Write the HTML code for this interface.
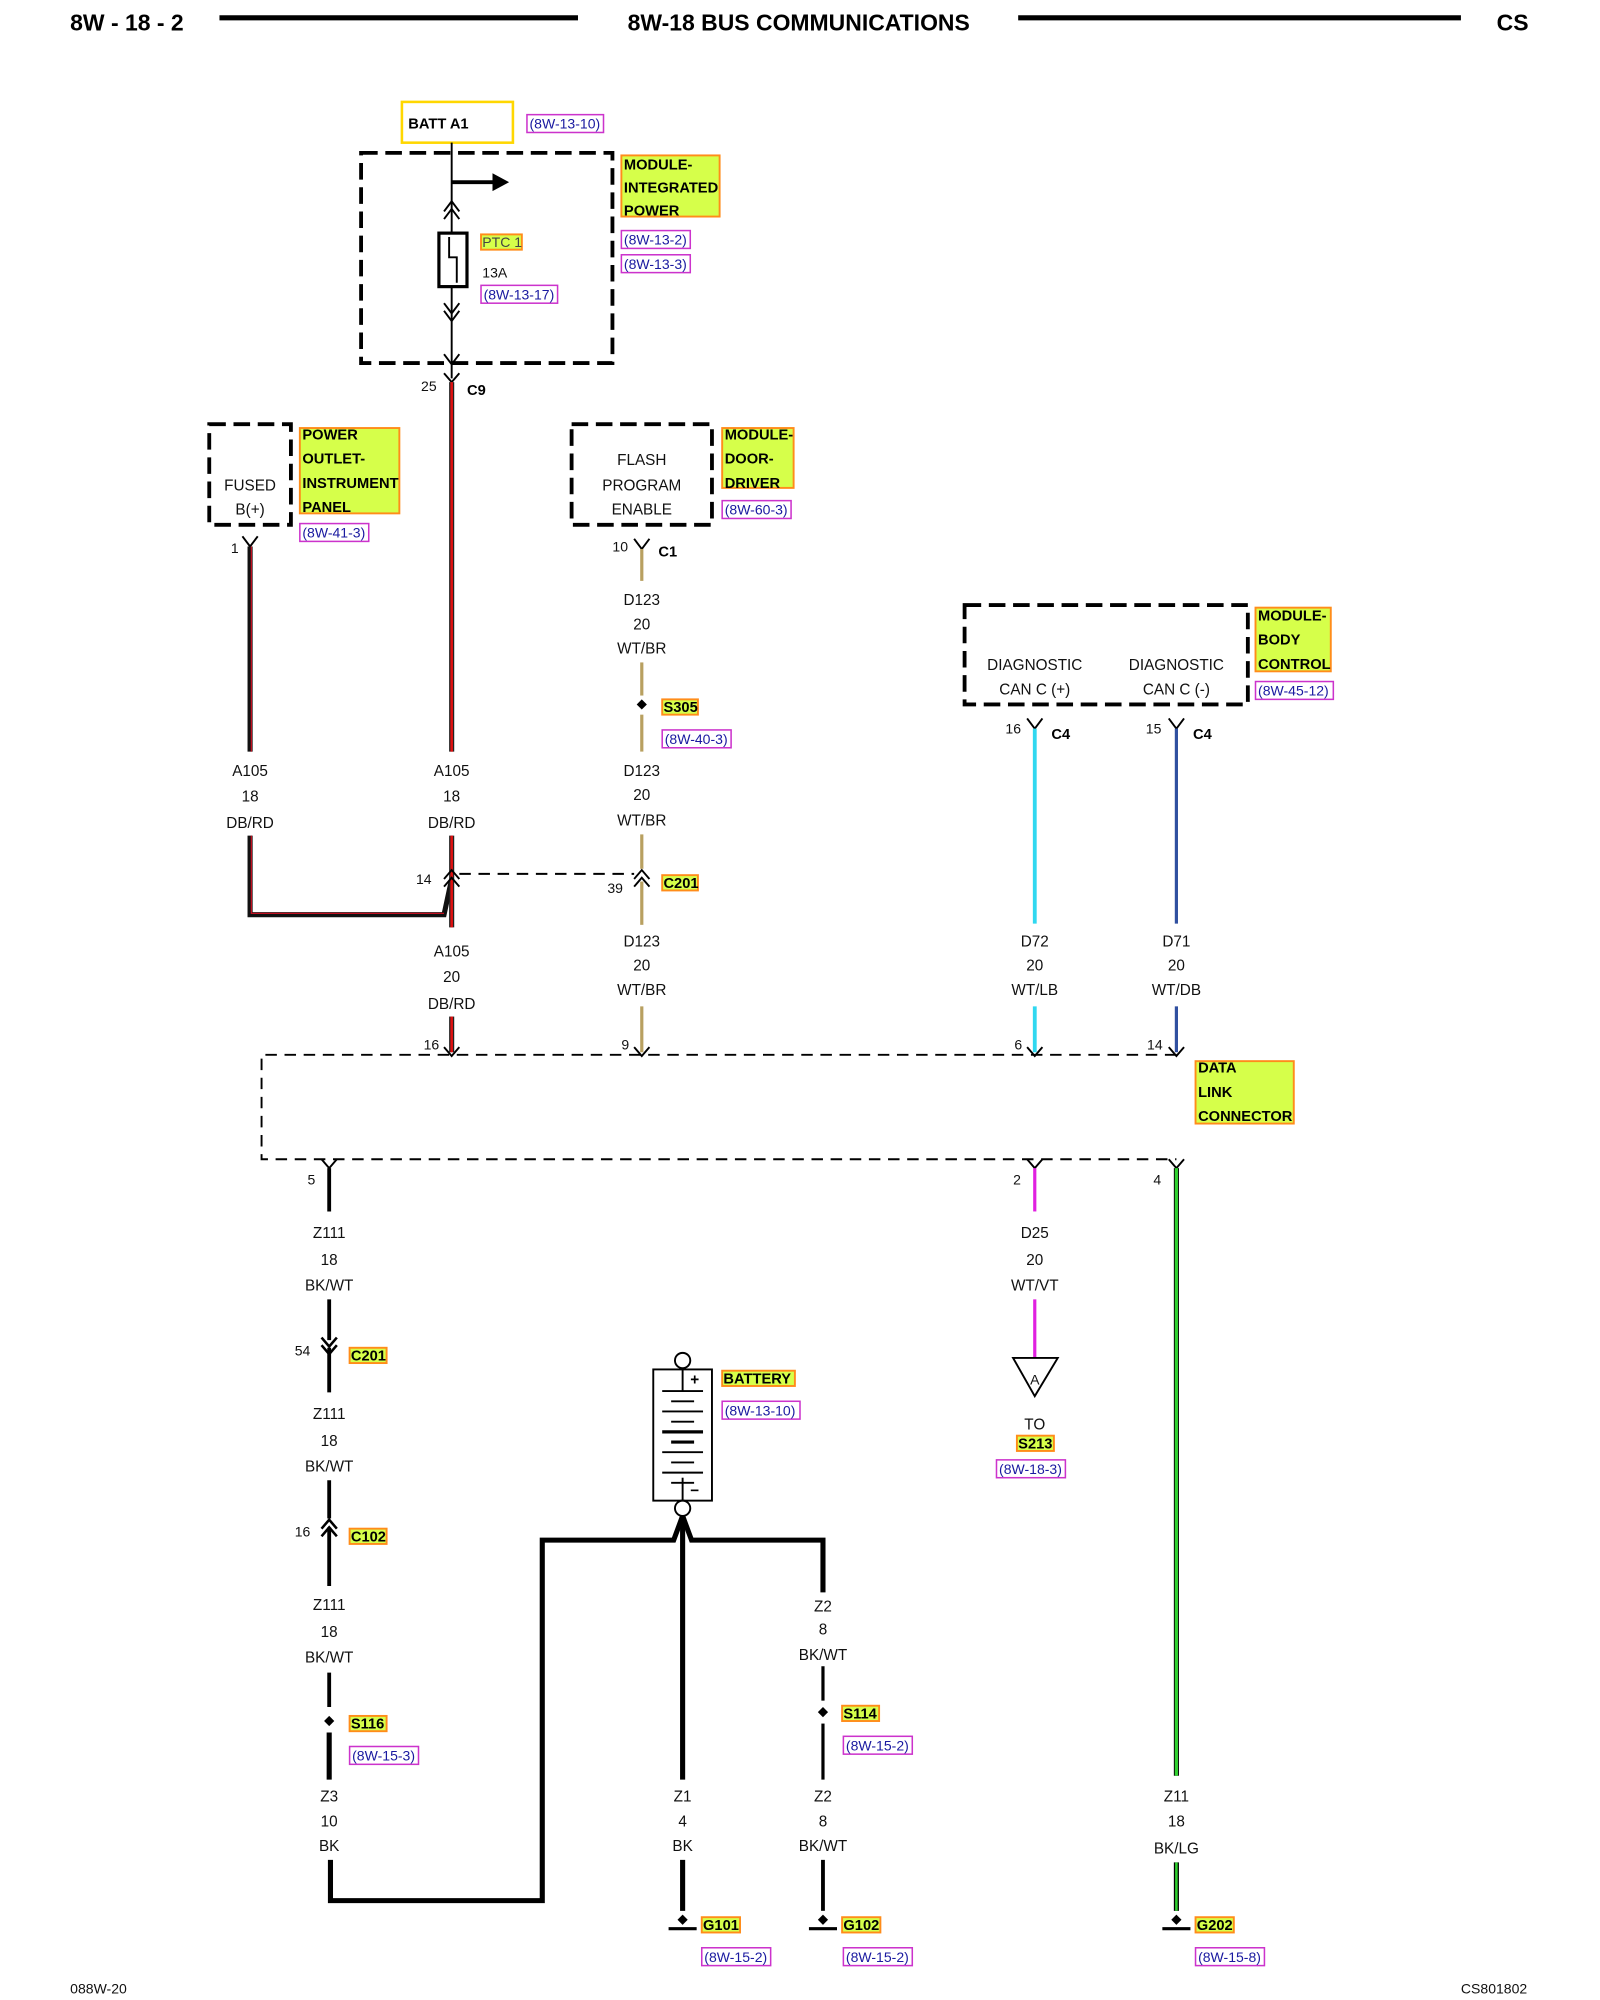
<!DOCTYPE html>
<html><head><meta charset="utf-8"><style>
html,body{margin:0;padding:0;background:#fff;}
svg{display:block;}
text{font-family:"Liberation Sans",sans-serif;}
.t{font-size:12px;fill:#111;text-anchor:middle;}
.tl{font-size:12px;fill:#111;}
.b{font-size:11.5px;font-weight:bold;fill:#000;}
.r{font-size:11px;fill:#1a1aa0;}
.hl{fill:#d6ff4a;stroke:#ff8c1a;stroke-width:1.5;}
.rb{fill:none;stroke:#cc33cc;stroke-width:1.2;}
.dash{fill:none;stroke:#000;stroke-width:3;stroke-dasharray:13,6;}
.dl{fill:none;stroke:#000;stroke-width:1.5;stroke-dasharray:9,6;}
.w{fill:none;stroke:#000;stroke-width:3;}
.thin{fill:none;stroke:#000;stroke-width:1.5;}
</style></head><body>
<svg width="1600" height="2000" viewBox="0 0 1254 1570" preserveAspectRatio="none" xmlns="http://www.w3.org/2000/svg">
<!-- header -->
<text x="55" y="24" style="font-size:18px;font-weight:bold">8W - 18 - 2</text>
<line x1="172" y1="14" x2="453" y2="14" stroke="#000" stroke-width="4"/>
<text x="626" y="24" style="font-size:18px;font-weight:bold;text-anchor:middle">8W-18 BUS COMMUNICATIONS</text>
<line x1="798" y1="14" x2="1145" y2="14" stroke="#000" stroke-width="4"/>
<text x="1173" y="24" style="font-size:18px;font-weight:bold">CS</text>

<!-- BATT A1 -->
<rect x="315" y="80" width="87" height="32" fill="none" stroke="#ffd700" stroke-width="2"/>
<text x="320" y="101" class="b">BATT A1</text>
<rect x="413" y="90" width="60" height="14" class="rb"/><text x="415" y="101" class="r">(8W-13-10)</text>

<!-- IPM -->
<rect x="283" y="120" width="197" height="165" class="dash"/>
<line x1="354" y1="112" x2="354" y2="297" class="thin"/>
<line x1="354" y1="143" x2="388" y2="143" stroke="#000" stroke-width="3"/>
<polygon points="386,136 399,143 386,150" fill="#000"/>
<path d="M348,166 L354,158 L360,166 M348,172 L354,164 L360,172" class="thin"/>
<rect x="344" y="183" width="22" height="42" fill="#fff" stroke="#000" stroke-width="2.5"/>
<path d="M352,186 V202 H358 V222" class="thin"/>
<path d="M348,238 L354,246 L360,238 M348,244 L354,252 L360,244" class="thin"/>
<path d="M348,278 L354,286 L360,278" class="thin"/>
<rect x="377" y="184" width="32" height="12" class="hl"/><text x="378" y="194" style="font-size:11px;fill:#444">PTC 1</text>
<text x="378" y="218" class="tl" style="font-size:11px">13A</text>
<rect x="377" y="224" width="60" height="14" class="rb"/><text x="379" y="235" class="r">(8W-13-17)</text>
<rect x="487" y="122" width="77" height="48" class="hl"/>
<text x="489" y="133" class="b">MODULE-</text><text x="489" y="151" class="b">INTEGRATED</text><text x="489" y="169" class="b">POWER</text>
<rect x="487" y="181" width="54" height="14" class="rb"/><text x="489" y="192" class="r">(8W-13-2)</text>
<rect x="487" y="200" width="54" height="14" class="rb"/><text x="489" y="211" class="r">(8W-13-3)</text>
<path d="M348,293 L354,300 L360,293" class="thin"/>
<text x="330" y="307" class="tl" style="font-size:11px">25</text>
<text x="366" y="310" class="b">C9</text>
<line x1="354" y1="300" x2="354" y2="590" stroke="#222" stroke-width="4"/>
<line x1="354" y1="300" x2="354" y2="590" stroke="#e01010" stroke-width="2"/>

<!-- Power outlet -->
<rect x="164" y="333" width="64" height="79" class="dash"/>
<text x="196" y="385" class="t">FUSED</text><text x="196" y="404" class="t">B(+)</text>
<rect x="235" y="336" width="78" height="67" class="hl"/>
<text x="237" y="345" class="b">POWER</text><text x="237" y="364" class="b">OUTLET-</text><text x="237" y="383" class="b">INSTRUMENT</text><text x="237" y="402" class="b">PANEL</text>
<rect x="235" y="411" width="54" height="14" class="rb"/><text x="237" y="422" class="r">(8W-41-3)</text>
<path d="M190,421 L196,429 L202,421" class="thin"/>
<text x="181" y="434" class="tl" style="font-size:11px">1</text>
<line x1="196" y1="429" x2="196" y2="590" stroke="#111" stroke-width="4"/>
<line x1="197" y1="429" x2="197" y2="590" stroke="#c01020" stroke-width="1"/>

<!-- Flash / door -->
<rect x="448" y="333" width="110" height="79" class="dash"/>
<text x="503" y="365" class="t">FLASH</text><text x="503" y="385" class="t">PROGRAM</text><text x="503" y="404" class="t">ENABLE</text>
<rect x="566" y="336" width="56" height="47" class="hl"/>
<text x="568" y="345" class="b">MODULE-</text><text x="568" y="364" class="b">DOOR-</text><text x="568" y="383" class="b">DRIVER</text>
<rect x="566" y="393" width="54" height="14" class="rb"/><text x="568" y="404" class="r">(8W-60-3)</text>
<path d="M497,423 L503,431 L509,423" class="thin"/>
<text x="480" y="433" class="tl" style="font-size:11px">10</text>
<text x="516" y="437" class="b">C1</text>
<g stroke="#b8a060" stroke-width="2.5">
<line x1="503" y1="431" x2="503" y2="456"/><line x1="503" y1="520" x2="503" y2="546"/><line x1="503" y1="561" x2="503" y2="590"/>
<line x1="503" y1="655" x2="503" y2="682"/><line x1="503" y1="692" x2="503" y2="726"/><line x1="503" y1="790" x2="503" y2="826"/>
</g>
<text x="503" y="475" class="t">D123</text><text x="503" y="494" class="t">20</text><text x="503" y="513" class="t">WT/BR</text>
<polygon points="503,549 507,553 503,557 499,553" fill="#000"/>
<rect x="519" y="549" width="28" height="12" class="hl"/><text x="520" y="559" class="b">S305</text>
<rect x="519" y="573" width="54" height="14" class="rb"/><text x="521" y="584" class="r">(8W-40-3)</text>

<text x="196" y="609" class="t">A105</text><text x="196" y="629" class="t">18</text><text x="196" y="650" class="t">DB/RD</text>
<text x="354" y="609" class="t">A105</text><text x="354" y="629" class="t">18</text><text x="354" y="650" class="t">DB/RD</text>
<text x="503" y="609" class="t">D123</text><text x="503" y="628" class="t">20</text><text x="503" y="648" class="t">WT/BR</text>

<!-- splice A105 -->
<path d="M196,656 V718 H348 L354,690" fill="none" stroke="#111" stroke-width="4"/>
<path d="M197,656 V717 H348" fill="none" stroke="#c01020" stroke-width="1"/>
<line x1="354" y1="656" x2="354" y2="728" stroke="#222" stroke-width="4"/>
<line x1="354" y1="656" x2="354" y2="728" stroke="#e01010" stroke-width="2"/>
<path d="M348,690 L354,683 L360,690 M348,696 L354,689 L360,696" class="thin"/>
<text x="326" y="694" class="tl" style="font-size:11px">14</text>
<line x1="360" y1="686" x2="497" y2="686" class="dl"/>
<path d="M497,690 L503,683 L509,690 M497,696 L503,689 L509,696" class="thin"/>
<text x="476" y="701" class="tl" style="font-size:11px">39</text>
<rect x="519" y="687" width="28" height="12" class="hl"/><text x="520" y="697" class="b">C201</text>
<text x="354" y="751" class="t">A105</text><text x="354" y="771" class="t">20</text><text x="354" y="792" class="t">DB/RD</text>
<line x1="354" y1="798" x2="354" y2="826" stroke="#222" stroke-width="4"/>
<line x1="354" y1="798" x2="354" y2="826" stroke="#e01010" stroke-width="2"/>
<text x="503" y="743" class="t">D123</text><text x="503" y="762" class="t">20</text><text x="503" y="781" class="t">WT/BR</text>

<!-- BCM -->
<rect x="756" y="475" width="222" height="78" class="dash"/>
<text x="811" y="526" class="t">DIAGNOSTIC</text><text x="811" y="545" class="t">CAN C (+)</text>
<text x="922" y="526" class="t">DIAGNOSTIC</text><text x="922" y="545" class="t">CAN C (-)</text>
<rect x="984" y="477" width="59" height="50" class="hl"/>
<text x="986" y="487" class="b">MODULE-</text><text x="986" y="506" class="b">BODY</text><text x="986" y="525" class="b">CONTROL</text>
<rect x="984" y="535" width="61" height="14" class="rb"/><text x="986" y="546" class="r">(8W-45-12)</text>
<path d="M805,564 L811,572 L817,564 M916,564 L922,572 L928,564" class="thin"/>
<text x="788" y="576" class="tl" style="font-size:11px">16</text><text x="824" y="580" class="b">C4</text>
<text x="898" y="576" class="tl" style="font-size:11px">15</text><text x="935" y="580" class="b">C4</text>
<line x1="811" y1="572" x2="811" y2="725" stroke="#30d8f0" stroke-width="3"/>
<line x1="922" y1="572" x2="922" y2="725" stroke="#3050a0" stroke-width="2.5"/>
<text x="811" y="743" class="t">D72</text><text x="811" y="762" class="t">20</text><text x="811" y="781" class="t">WT/LB</text>
<text x="922" y="743" class="t">D71</text><text x="922" y="762" class="t">20</text><text x="922" y="781" class="t">WT/DB</text>
<line x1="811" y1="790" x2="811" y2="826" stroke="#30d8f0" stroke-width="3"/>
<line x1="922" y1="790" x2="922" y2="826" stroke="#3050a0" stroke-width="2.5"/>

<!-- DLC -->
<path d="M922,828 H205 V910 H922" class="dl"/>
<path d="M348,822 L354,829 L360,822 M497,822 L503,829 L509,822 M805,822 L811,829 L817,822 M916,822 L922,829 L928,822" class="thin"/>
<text x="332" y="824" class="tl" style="font-size:11px">16</text>
<text x="487" y="824" class="tl" style="font-size:11px">9</text>
<text x="795" y="824" class="tl" style="font-size:11px">6</text>
<text x="899" y="824" class="tl" style="font-size:11px">14</text>
<rect x="937" y="833" width="77" height="49" class="hl"/>
<text x="939" y="842" class="b">DATA</text><text x="939" y="861" class="b">LINK</text><text x="939" y="880" class="b">CONNECTOR</text>
<path d="M252,910 L258,917 L264,910 M805,910 L811,917 L817,910 M916,910 L922,917 L928,910" class="thin"/>
<text x="241" y="930" class="tl" style="font-size:11px">5</text>
<text x="794" y="930" class="tl" style="font-size:11px">2</text>
<text x="904" y="930" class="tl" style="font-size:11px">4</text>

<!-- Z111 chain -->
<g class="w" stroke="#000" stroke-width="3">
<line x1="258" y1="917" x2="258" y2="951"/>
<line x1="258" y1="1020" x2="258" y2="1052"/>
<line x1="258" y1="1058" x2="258" y2="1093"/>
<line x1="258" y1="1199" x2="258" y2="1245"/>
<line x1="258" y1="1313" x2="258" y2="1340"/>
<line x1="258" y1="1360" x2="258" y2="1397" stroke-width="4"/>
</g>
<text x="258" y="972" class="t">Z111</text><text x="258" y="993" class="t">18</text><text x="258" y="1013" class="t">BK/WT</text>
<path d="M252,1050 L258,1057 L264,1050 M252,1056 L258,1063 L264,1056" class="thin" style="stroke-width:2"/>
<text x="231" y="1064" class="tl" style="font-size:11px">54</text>
<rect x="274" y="1058" width="29" height="12" class="hl"/><text x="275" y="1068" class="b">C201</text>
<text x="258" y="1114" class="t">Z111</text><text x="258" y="1135" class="t">18</text><text x="258" y="1155" class="t">BK/WT</text>
<line x1="258" y1="1162" x2="258" y2="1192" stroke="#000" stroke-width="3"/>
<path d="M252,1200 L258,1193 L264,1200 M252,1206 L258,1199 L264,1206" class="thin" style="stroke-width:2"/>
<text x="231" y="1206" class="tl" style="font-size:11px">16</text>
<rect x="274" y="1200" width="29" height="12" class="hl"/><text x="275" y="1210" class="b">C102</text>
<text x="258" y="1264" class="t">Z111</text><text x="258" y="1285" class="t">18</text><text x="258" y="1305" class="t">BK/WT</text>
<polygon points="258,1347 262,1351 258,1355 254,1351" fill="#000"/>
<rect x="274" y="1347" width="29" height="12" class="hl"/><text x="275" y="1357" class="b">S116</text>
<rect x="274" y="1371" width="54" height="14" class="rb"/><text x="276" y="1382" class="r">(8W-15-3)</text>
<text x="258" y="1414" class="t">Z3</text><text x="258" y="1434" class="t">10</text><text x="258" y="1453" class="t">BK</text>
<path d="M259,1460 V1492 H425 V1209 H528 L535,1190 L542,1209 H645 V1250" fill="none" stroke="#000" stroke-width="4"/>

<!-- Battery -->
<rect x="512" y="1075" width="46" height="103" fill="#fff" stroke="#000" stroke-width="1.5"/>
<circle cx="535" cy="1068" r="6" fill="#fff" stroke="#000" stroke-width="1.5"/>
<circle cx="535" cy="1184" r="6" fill="#fff" stroke="#000" stroke-width="1.5"/>
<line x1="535" y1="1074" x2="535" y2="1092" class="thin"/>
<line x1="535" y1="1160" x2="535" y2="1178" class="thin"/>
<text x="541" y="1087" style="font-size:12px;font-weight:bold">+</text>
<text x="541" y="1174" style="font-size:12px;font-weight:bold">−</text>
<g stroke="#000" stroke-width="1.5">
<line x1="519" y1="1092" x2="551" y2="1092"/><line x1="526" y1="1100" x2="544" y2="1100"/>
<line x1="519" y1="1108" x2="551" y2="1108"/><line x1="526" y1="1116" x2="544" y2="1116"/>
<line x1="519" y1="1124" x2="551" y2="1124" stroke-width="2.5"/><line x1="526" y1="1132" x2="544" y2="1132" stroke-width="2.5"/>
<line x1="519" y1="1140" x2="551" y2="1140"/><line x1="526" y1="1148" x2="544" y2="1148"/>
<line x1="519" y1="1156" x2="551" y2="1156"/><line x1="526" y1="1164" x2="544" y2="1164"/>
</g>
<rect x="566" y="1076" width="57" height="12" class="hl"/><text x="567" y="1086" class="b">BATTERY</text>
<rect x="566" y="1100" width="61" height="14" class="rb"/><text x="568" y="1111" class="r">(8W-13-10)</text>
<line x1="535" y1="1190" x2="535" y2="1397" stroke="#000" stroke-width="4"/>
<text x="535" y="1414" class="t">Z1</text><text x="535" y="1434" class="t">4</text><text x="535" y="1453" class="t">BK</text>
<line x1="535" y1="1460" x2="535" y2="1500" stroke="#000" stroke-width="4"/>
<polygon points="535,1503 539,1507 535,1511 531,1507" fill="#000"/>
<line x1="524" y1="1514" x2="546" y2="1514" stroke="#000" stroke-width="2.5"/>
<rect x="550" y="1505" width="30" height="12" class="hl"/><text x="551" y="1515" class="b">G101</text>
<rect x="550" y="1529" width="54" height="14" class="rb"/><text x="552" y="1540" class="r">(8W-15-2)</text>

<text x="645" y="1265" class="t">Z2</text><text x="645" y="1283" class="t">8</text><text x="645" y="1303" class="t">BK/WT</text>
<line x1="645" y1="1308" x2="645" y2="1335" stroke="#000" stroke-width="2.5"/>
<polygon points="645,1340 649,1344 645,1348 641,1344" fill="#000"/>
<line x1="645" y1="1353" x2="645" y2="1397" stroke="#000" stroke-width="2.5"/>
<rect x="660" y="1339" width="29" height="12" class="hl"/><text x="661" y="1349" class="b">S114</text>
<rect x="661" y="1363" width="54" height="14" class="rb"/><text x="663" y="1374" class="r">(8W-15-2)</text>
<text x="645" y="1414" class="t">Z2</text><text x="645" y="1434" class="t">8</text><text x="645" y="1453" class="t">BK/WT</text>
<line x1="645" y1="1460" x2="645" y2="1500" stroke="#000" stroke-width="3"/>
<polygon points="645,1503 649,1507 645,1511 641,1507" fill="#000"/>
<line x1="634" y1="1514" x2="656" y2="1514" stroke="#000" stroke-width="2.5"/>
<rect x="660" y="1505" width="30" height="12" class="hl"/><text x="661" y="1515" class="b">G102</text>
<rect x="661" y="1529" width="54" height="14" class="rb"/><text x="663" y="1540" class="r">(8W-15-2)</text>

<!-- D25 -->
<line x1="811" y1="917" x2="811" y2="951" stroke="#e020e0" stroke-width="2.5"/>
<text x="811" y="972" class="t">D25</text><text x="811" y="993" class="t">20</text><text x="811" y="1013" class="t">WT/VT</text>
<line x1="811" y1="1020" x2="811" y2="1066" stroke="#e020e0" stroke-width="2.5"/>
<polygon points="794,1066 829,1066 811,1096" fill="#fff" stroke="#000" stroke-width="1.5"/>
<text x="811" y="1087" class="t" style="font-size:11px">A</text>
<text x="811" y="1122" class="t">TO</text>
<rect x="797" y="1127" width="29" height="12" class="hl"/><text x="798" y="1137" class="b">S213</text>
<rect x="781" y="1146" width="54" height="14" class="rb"/><text x="783" y="1157" class="r">(8W-18-3)</text>

<!-- Z11 -->
<line x1="922" y1="917" x2="922" y2="1394" stroke="#000" stroke-width="4"/>
<line x1="922" y1="917" x2="922" y2="1394" stroke="#30d030" stroke-width="2.5"/>
<text x="922" y="1414" class="t">Z11</text><text x="922" y="1434" class="t">18</text><text x="922" y="1455" class="t">BK/LG</text>
<line x1="922" y1="1462" x2="922" y2="1500" stroke="#000" stroke-width="4"/>
<line x1="922" y1="1462" x2="922" y2="1500" stroke="#30d030" stroke-width="2"/>
<polygon points="922,1503 926,1507 922,1511 918,1507" fill="#000"/>
<line x1="911" y1="1514" x2="933" y2="1514" stroke="#000" stroke-width="2.5"/>
<rect x="937" y="1505" width="30" height="12" class="hl"/><text x="938" y="1515" class="b">G202</text>
<rect x="937" y="1529" width="54" height="14" class="rb"/><text x="939" y="1540" class="r">(8W-15-8)</text>

<text x="55" y="1565" class="tl" style="font-size:11px">088W-20</text>
<text x="1145" y="1565" class="tl" style="font-size:11px">CS801802</text>
</svg>
</body></html>
